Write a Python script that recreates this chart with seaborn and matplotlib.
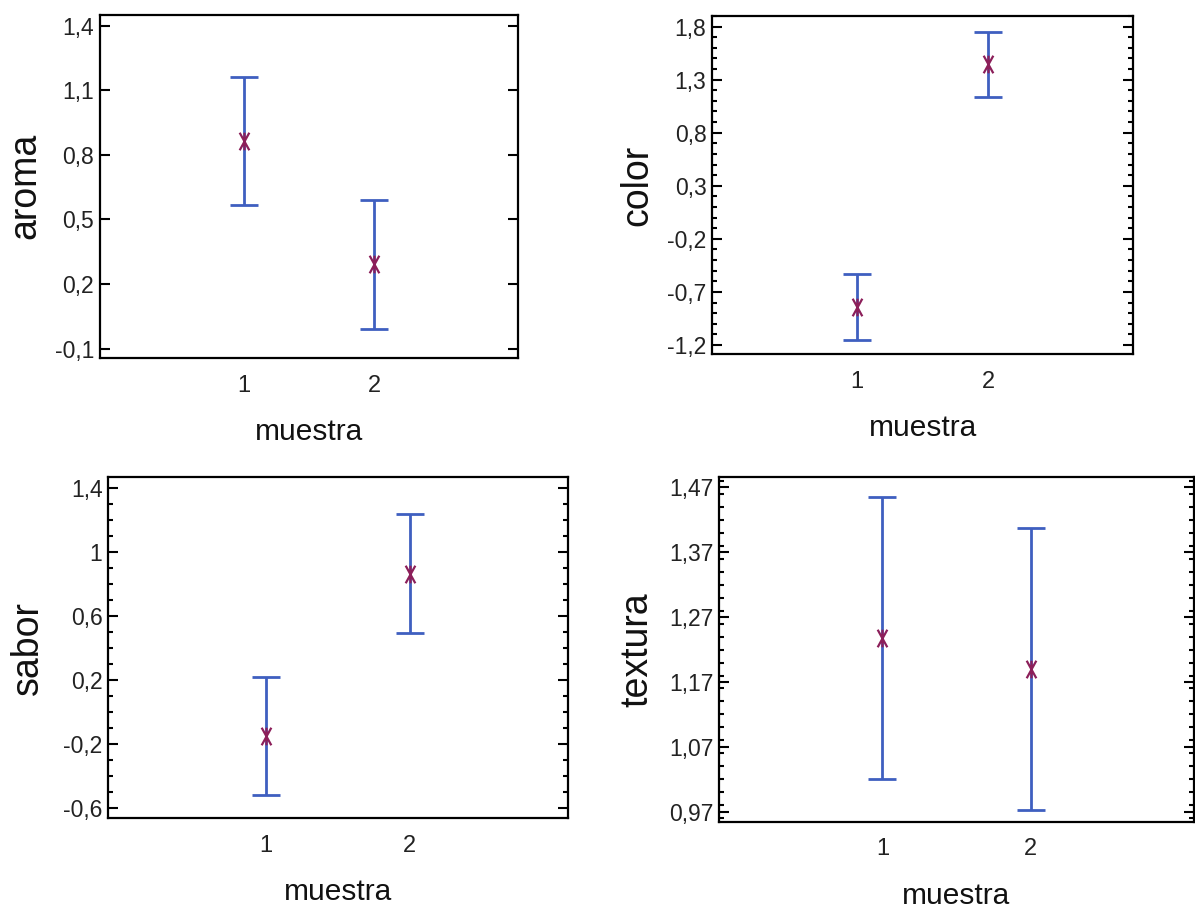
import matplotlib
matplotlib.use("Agg")
import matplotlib.pyplot as plt
import pandas as pd
import seaborn as sns
from matplotlib.path import Path
from matplotlib.ticker import MultipleLocator, NullLocator

# Data (means and half-widths of the intervals)
muestra = [1, 2]
x_ticklabels = ["1", "2"]

aroma_mean = [0.863, 0.292]
aroma_half = [0.298, 0.300]
color_mean = [-0.842, 1.446]
color_half = [0.308, 0.305]
sabor_mean = [-0.147, 0.866]
sabor_half = [0.370, 0.372]
textura_mean = [1.238, 1.190]
textura_half = [0.217, 0.217]

aroma_ticks = [-0.1, 0.2, 0.5, 0.8, 1.1, 1.4]
color_ticks = [-1.2, -0.7, -0.2, 0.3, 0.8, 1.3, 1.8]
sabor_ticks = [-0.6, -0.2, 0.2, 0.6, 1.0, 1.4]
textura_ticks = [0.97, 1.07, 1.17, 1.27, 1.37, 1.47]

sns.set_style("white")
plt.rcParams["font.family"] = ["Liberation Sans", "DejaVu Sans"]

BAR_COLOR = "#3f5fc0"
MARK_COLOR = "#8c1f5a"

# asterisk-like marker: vertical stroke plus two steep diagonals
star = Path([(-0.55, -1), (0.55, 1), (-0.55, 1), (0.55, -1), (0, -1), (0, 1)],
            [Path.MOVETO, Path.LINETO] * 3)

panels = [
    ("aroma", aroma_mean, aroma_half, aroma_ticks, (-0.143, 1.451), None,
     [0.0834, 0.6083, 0.3502, 0.3757]),
    ("color", color_mean, color_half, color_ticks, (-1.2875, 1.903), 0.1,
     [0.5958, 0.6124, 0.3525, 0.3705]),
    ("sabor", sabor_mean, sabor_half, sabor_ticks, (-0.6625, 1.469), 0.1,
     [0.0904, 0.1047, 0.3849, 0.3731]),
    ("textura", textura_mean, textura_half, textura_ticks, (0.9547, 1.4864), 0.02,
     [0.6018, 0.1010, 0.3972, 0.3774]),
]

fig = plt.figure(figsize=(11.95, 9.14), dpi=100)

for name, means, halves, ticks, ylim, minor, rect in panels:
    ax = fig.add_axes(rect)
    df = pd.DataFrame({"muestra": muestra, name: means, "half": halves})

    ax.errorbar(df["muestra"], df[name], yerr=df["half"], fmt="none",
                ecolor=BAR_COLOR, elinewidth=2, capsize=10, capthick=2, zorder=2)
    sns.scatterplot(data=df, x="muestra", y=name, marker=star, s=160,
                    color=MARK_COLOR, edgecolor=MARK_COLOR, linewidth=1.6,
                    zorder=3, ax=ax)

    ax.set_xlim(-0.1, 3.1)
    ax.set_ylim(*ylim)
    ax.set_xticks(muestra)
    ax.set_xticklabels(x_ticklabels, fontsize=17, color="#222222")
    ax.set_yticks(ticks)
    ax.set_yticklabels([f"{round(t, 2):g}".replace(".", ",") for t in ticks],
                       fontsize=16.5, color="#222222")
    if minor:
        ax.yaxis.set_minor_locator(MultipleLocator(minor))
    else:
        ax.yaxis.set_minor_locator(NullLocator())

    ax.tick_params(axis="x", length=0, pad=12)
    ax.tick_params(axis="y", which="major", direction="in", left=True, right=True,
                   length=7, width=1.5, pad=4, color="black")
    ax.tick_params(axis="y", which="minor", direction="in", left=True, right=True,
                   length=3.5, width=1.5, color="black")

    for sp in ax.spines.values():
        sp.set_visible(True)
        sp.set_color("black")
        sp.set_linewidth(1.6)

    ax.set_xlabel("muestra", fontsize=21.5, color="#111111")
    ax.set_ylabel(name, fontsize=27, color="#111111")
    ax.xaxis.set_label_coords(0.5, -0.175)
    ax.yaxis.set_label_coords(-0.135, 0.5)

fig.savefig("out.png", dpi=100)
